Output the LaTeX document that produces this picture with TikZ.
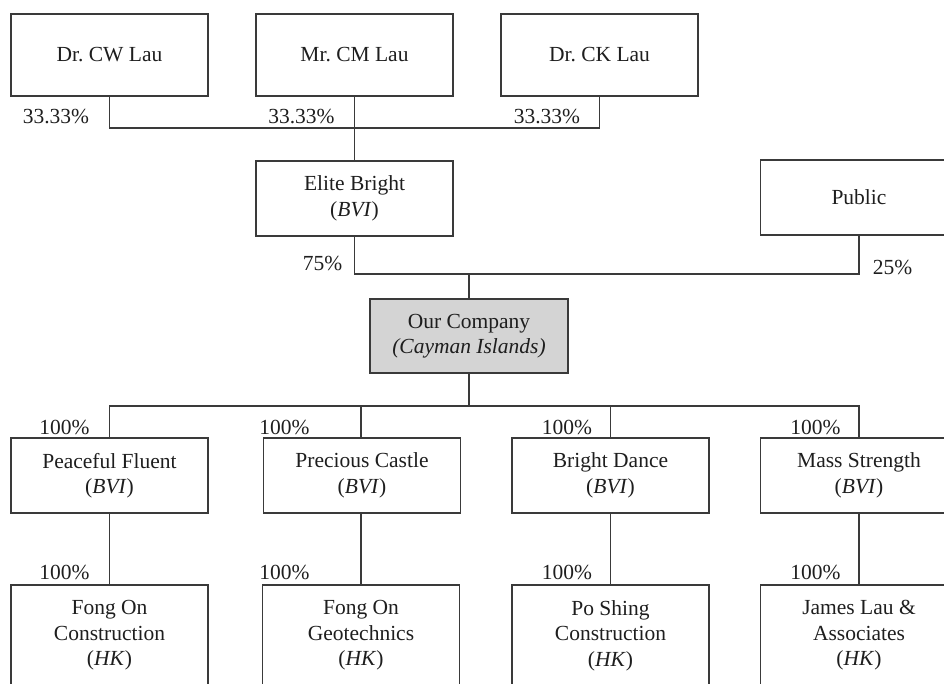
\documentclass[tikz,border=0pt]{standalone}
\usepackage{fontspec}
\setmainfont{Liberation Serif}
\frenchspacing
\definecolor{linec}{HTML}{3A3A3A}
\definecolor{textc}{HTML}{1E1E1E}
\definecolor{grayfill}{HTML}{D4D4D4}
\begin{document}
\begin{tikzpicture}[x=1pt,y=-1pt,
  every node/.style={text=textc,font=\fontsize{21.5}{25.5}\selectfont,inner sep=0pt},
  ent/.style={draw=linec,line width=1.1pt,align=center,minimum width=197pt},
  topbox/.style={ent,minimum height=82pt},
  midbox/.style={ent,minimum height=75pt},
  lowbox/.style={ent,minimum height=101pt},
  pct/.style={},
  link/.style={draw=linec,line width=1.1pt}]
\useasboundingbox (0,0) rectangle (944,684);
\clip (0,0) rectangle (944,684);
% top owners
\node[topbox] (cw) at (109.5,55) {Dr. CW Lau};
\node[topbox] (cm) at (354.5,55) {Mr. CM Lau};
\node[topbox] (ck) at (599.5,55) {Dr. CK Lau};
% second level
\node[midbox] (eb) at (354.5,198.5) {Elite Bright\\(\textit{BVI})};
\node[midbox] (pub) at (859,197.5) {Public};
% company
\node[ent,fill=grayfill,minimum width=198pt,minimum height=74pt] (oc) at (469,336) {Our Company\\\textit{(Cayman Islands)}};
% subsidiaries
\node[midbox] (pf) at (109.5,475.5) {Peaceful Fluent\\(\textit{BVI})};
\node[midbox] (pc) at (362,475.5) {Precious Castle\\(\textit{BVI})};
\node[midbox] (bd) at (610.5,475.5) {Bright Dance\\(\textit{BVI})};
\node[midbox] (ms) at (859,475.5) {Mass Strength\\(\textit{BVI})};
% HK companies
\node[lowbox] (fc) at (109.5,635.5) {Fong On\\Construction\\(\textit{HK})};
\node[lowbox] (fg) at (361,635.5) {Fong On\\Geotechnics\\(\textit{HK})};
\node[lowbox] (ps) at (610.5,635.5) {Po Shing\\Construction\\(\textit{HK})};
\node[lowbox] (jl) at (859,635.5) {James Lau \&\\Associates\\(\textit{HK})};
% bus coordinates
\coordinate (b1) at (354.5,128);
\coordinate (b2) at (469,274);
\coordinate (b3) at (469,406);
% connectors
\draw[link] (cw.south) |- (b1) -| (ck.south);
\draw[link] (cm.south) -- (eb.north);
\draw[link] (eb.south) |- (b2) -| (pub.south);
\draw[link] (b2) -- (oc.north);
\draw[link] (oc.south) -- (b3);
\draw[link] (pf.north) |- (b3) -| (ms.north);
\draw[link] (pc.north -| fg.north) |- (b3);
\draw[link] (bd.north) |- (b3);
\draw[link] (pf.south) -- (fc.north);
\draw[link] (pc.south -| fg.north) -- (fg.north);
\draw[link] (bd.south) -- (ps.north);
\draw[link] (ms.south) -- (jl.north);
% percentage labels
\node[pct] (p1) at (56,117) {33.33\%};
\node[pct] (p2) at (301.5,117) {33.33\%};
\node[pct] (p3) at (547,117) {33.33\%};
\node[pct] (p4) at (322.5,263) {75\%};
\node[pct] (p5) at (892.5,267) {25\%};
\node[pct] (p6) at (64.5,427) {100\%};
\node[pct] (p7) at (284.5,427) {100\%};
\node[pct] (p8) at (567,427) {100\%};
\node[pct] (p9) at (815.5,427) {100\%};
\node[pct] (p10) at (64.5,572) {100\%};
\node[pct] (p11) at (284.5,572) {100\%};
\node[pct] (p12) at (567,572) {100\%};
\node[pct] (p13) at (815.5,572) {100\%};
\end{tikzpicture}
\end{document}
